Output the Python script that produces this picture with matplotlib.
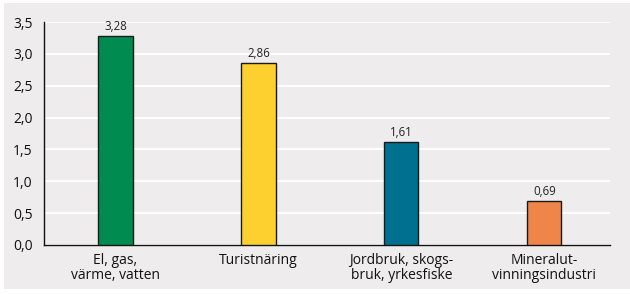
import matplotlib.pyplot as plt
from matplotlib.patches import Rectangle

categories = ["El, gas,\nvärme, vatten", "Turistnäring", "Jordbruk, skogs-\nbruk, yrkesfiske", "Mineralut-\nvinningsindustri"]
values = [3.28, 2.86, 1.61, 0.69]
colors = ["#008c50", "#fdd030", "#007090", "#ef8548"]
yticks = [0.0, 0.5, 1.0, 1.5, 2.0, 2.5, 3.0, 3.5]

plt.rcParams["font.family"] = ["Open Sans", "DejaVu Sans"]

bg = "#eeecec"
fig = plt.figure(figsize=(6.3, 2.94), dpi=100)
fig.patch.set_facecolor("white")
fig.add_artist(Rectangle((4 / 630, 5 / 294), 626 / 630, 286 / 294,
                         transform=fig.transFigure, facecolor=bg, edgecolor="none", zorder=-10))

ax = fig.add_axes([44 / 630, 1 - 245 / 294, 566 / 630, 223 / 294])
ax.set_facecolor(bg)

x = range(len(categories))
bars = ax.bar(x, values, width=0.24, color=colors, edgecolor="#1a1a1a", linewidth=1.0, zorder=3)
for rect, v in zip(bars, values):
  ax.text(rect.get_x() + rect.get_width() / 2, v + 0.05, f"{v:.2f}".replace(".", ","),
          ha="center", va="bottom", fontsize=8.3, color="#222222")

ax.set_xlim(-0.5, 3.46)
ax.set_ylim(0, 3.5)
ax.set_yticks(yticks)
ax.set_yticklabels([f"{t:.1f}".replace(".", ",") for t in yticks], fontsize=10)
ax.set_xticks(list(x))
ax.set_xticklabels(categories, fontsize=10, linespacing=1.0)
ax.tick_params(axis="both", length=0, pad=8, colors="#111111")
ax.tick_params(axis="x", pad=6)
ax.grid(axis="y", color="white", linewidth=1.5, zorder=0)
ax.set_axisbelow(True)
for side in ["top", "right"]:
  ax.spines[side].set_visible(False)
for side in ["left", "bottom"]:
  ax.spines[side].set_color("#111111")
  ax.spines[side].set_linewidth(1.0)

fig.savefig("out.png", dpi=100, facecolor=fig.get_facecolor())
